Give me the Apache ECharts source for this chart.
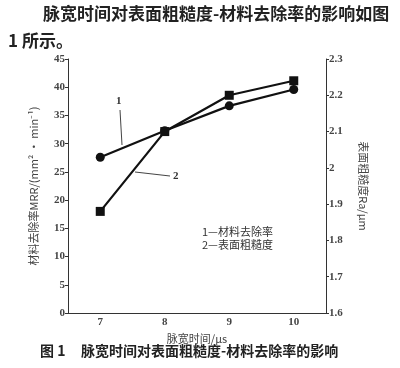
<!DOCTYPE html>
<html><head><meta charset="utf-8">
<script src="https://cdn.jsdelivr.net/npm/echarts@6/dist/echarts.min.js"></script>
<style>html,body{margin:0;padding:0;background:#fff}#c{width:400px;height:368px}</style>
</head><body><div id="c"></div>
<script>
var categories = ['7', '8', '9', '10'];
var mrrValues = [27.6, 32.3, 36.7, 39.6];
var raValues = [1.88, 2.10, 2.20, 2.24];
var leftTicks = {min: 0, max: 45, interval: 5};
var rightTicks = {min: 1.6, max: 2.3, interval: 0.1};

var serif = '"Liberation Serif", "Noto Sans CJK SC", serif';
var cjk = '"Noto Sans CJK SC", sans-serif';
var chart = echarts.init(document.getElementById('c'));
chart.setOption({
  animation: false,
  backgroundColor: '#fff',
  grid: {left: 68, right: 74, top: 59, bottom: 55},
  xAxis: {
    type: 'category', data: categories, boundaryGap: true,
    name: '脉宽时间/μs', nameLocation: 'middle', nameGap: 14,
    nameTextStyle: {fontFamily: cjk, fontSize: 11, color: '#444'},
    axisLine: {lineStyle: {color: '#333', width: 1}},
    axisTick: {inside: true, length: 4, lineStyle: {color: '#333'}},
    axisLabel: {fontFamily: serif, fontSize: 11, fontWeight: 'bold', color: '#444', margin: 4}
  },
  yAxis: [{
    type: 'value', min: leftTicks.min, max: leftTicks.max, interval: leftTicks.interval,
    name: '材料去除率MRR/(mm² · min⁻¹)', nameLocation: 'middle', nameGap: 29, nameRotate: 90,
    nameTextStyle: {fontFamily: cjk, fontSize: 11, color: '#444'},
    axisLine: {show: true, lineStyle: {color: '#333', width: 1}},
    axisTick: {show: true, length: 3, lineStyle: {color: '#333'}},
    axisLabel: {fontFamily: serif, fontSize: 11, fontWeight: 'bold', color: '#444', margin: 3},
    splitLine: {show: false}
  }, {
    type: 'value', position: 'right', min: rightTicks.min, max: rightTicks.max, interval: rightTicks.interval,
    name: '表面粗糙度Ra/μm', nameLocation: 'middle', nameGap: 32, nameRotate: -90,
    nameTextStyle: {fontFamily: cjk, fontSize: 11, color: '#444'},
    axisLine: {show: true, lineStyle: {color: '#333', width: 1}},
    axisTick: {show: true, length: 3, lineStyle: {color: '#333'}},
    axisLabel: {fontFamily: serif, fontSize: 11, fontWeight: 'bold', color: '#444', margin: 3,
      formatter: function (v) { return String(Math.round(v * 10) / 10); }},
    splitLine: {show: false}
  }],
  series: [{
    name: '材料去除率', type: 'line', yAxisIndex: 0, data: mrrValues,
    symbol: 'circle', symbolSize: 9,
    lineStyle: {color: '#111', width: 2.2}, itemStyle: {color: '#111'}
  }, {
    name: '表面粗糙度', type: 'line', yAxisIndex: 1, data: raValues,
    symbol: 'rect', symbolSize: 9,
    lineStyle: {color: '#111', width: 2.2}, itemStyle: {color: '#111'}
  }],
  graphic: [
    {type: 'text', left: 43, top: 5, style: {text: '脉宽时间对表面粗糙度-材料去除率的影响如图', font: 'bold 17px "Noto Sans CJK SC"', fill: '#222'}},
    {type: 'text', left: 8, top: 32, style: {text: '1 所示。', font: 'bold 17px "Noto Sans CJK SC"', fill: '#222'}},
    {type: 'text', left: 40, top: 344, style: {text: '图 1', font: 'bold 14px "Noto Sans CJK SC"', fill: '#222'}},
    {type: 'text', left: 81, top: 344, style: {text: '脉宽时间对表面粗糙度-材料去除率的影响', font: 'bold 14px "Noto Sans CJK SC"', fill: '#222'}},
    {type: 'text', left: 202, top: 226, style: {text: '1—材料去除率', font: '11px "Noto Sans CJK SC"', fill: '#333'}},
    {type: 'text', left: 202, top: 239, style: {text: '2—表面粗糙度', font: '11px "Noto Sans CJK SC"', fill: '#333'}},
    {type: 'text', left: 116, top: 96, style: {text: '1', font: 'bold 11px "Liberation Serif"', fill: '#333'}},
    {type: 'line', shape: {x1: 120, y1: 110, x2: 122, y2: 145}, style: {stroke: '#444', lineWidth: 1}},
    {type: 'text', left: 173, top: 171, style: {text: '2', font: 'bold 11px "Liberation Serif"', fill: '#333'}},
    {type: 'line', shape: {x1: 135, y1: 172, x2: 170, y2: 176}, style: {stroke: '#444', lineWidth: 1}}
  ]
});
</script></body></html>
